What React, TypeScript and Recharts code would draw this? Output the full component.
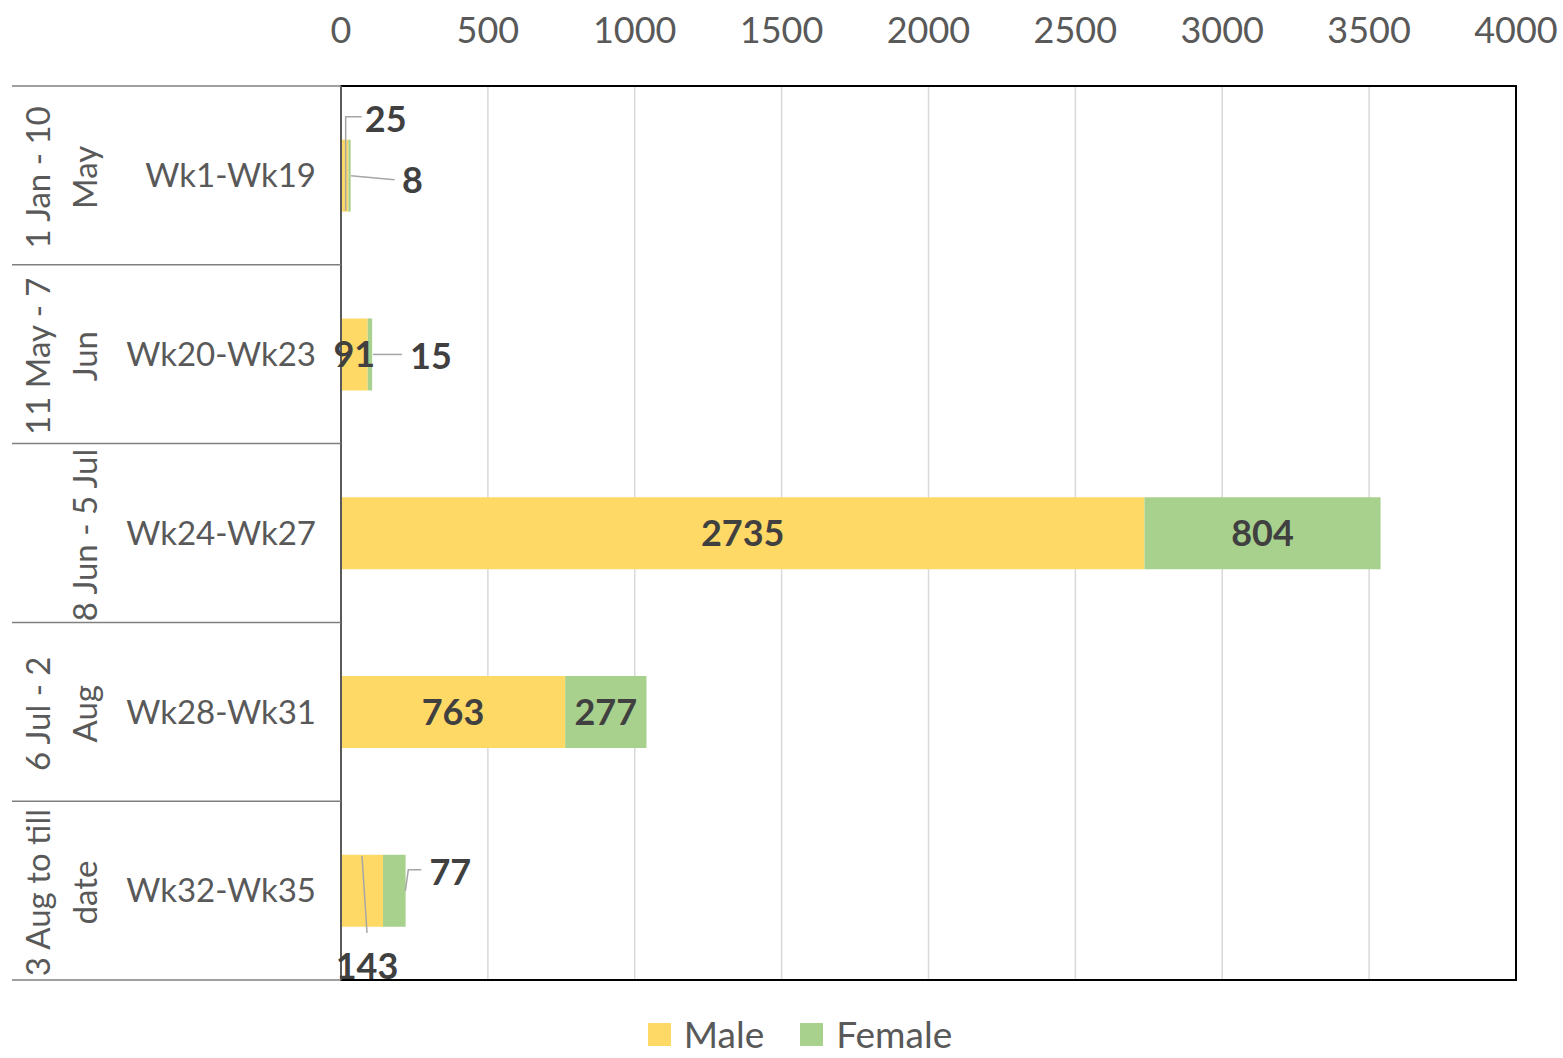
import React from "react";
import {
  BarChart,
  Bar,
  XAxis,
  YAxis,
  CartesianGrid,
  Legend,
  LabelList,
  ReferenceArea,
} from "recharts";

const weeks = ["Wk1-Wk19", "Wk20-Wk23", "Wk24-Wk27", "Wk28-Wk31", "Wk32-Wk35"];
const periods = [
  ["1 Jan - 10", "May"],
  ["11 May - 7", "Jun"],
  ["", "8 Jun - 5 Jul"],
  ["6 Jul - 2", "Aug"],
  ["3 Aug to till", "date"],
];
const male = [25, 91, 2735, 763, 143];
const female = [8, 15, 804, 277, 77];
const xTicks = [0, 500, 1000, 1500, 2000, 2500, 3000, 3500, 4000];

const data = weeks.map((wk, i) => ({ wk, male: male[i], female: female[i] }));

const FONT = "Lato, 'Open Sans', sans-serif";
const AXIS_GREY = "#595959";
const LABEL_DARK = "#404040";

// callout labels that sit outside small bars (offsets from bar centre)
type Callout = { dx: number; dy: number; leader: [number, number][] };
const maleCallouts: Record<number, Callout> = {
  0: { dx: 41, dy: -57, leader: [[17, -59], [1, -59], [1, 35]] },
  4: { dx: 5, dy: 75, leader: [[0, -35], [5, 42]] },
};
const femaleCallouts: Record<number, Callout> = {
  0: { dx: 63, dy: 4, leader: [[1.5, 0], [45, 4]] },
  1: { dx: 61, dy: 2, leader: [[3, 0], [32, 0]] },
  4: { dx: 56, dy: -19, leader: [[11, 0], [14, -21], [27, -21]] },
};

function makeLabel(callouts: Record<number, Callout>) {
  return (props: any) => {
    const { x, y, width, height, value, index } = props;
    const cx = Number(x) + Number(width) / 2;
    const cy = Number(y) + Number(height) / 2;
    const c = callouts[index];
    const text = (tx: number, ty: number) => (
      <text
        x={tx}
        y={ty}
        dy="0.36em"
        textAnchor="middle"
        fontFamily={FONT}
        fontSize={36}
        fontWeight="bold"
        fill={LABEL_DARK}
      >
        {value}
      </text>
    );
    if (!c) return <g>{text(cx, cy)}</g>;
    const pts = c.leader.map(([a, b]) => `${cx + a},${cy + b}`).join(" ");
    return (
      <g>
        <polyline points={pts} fill="none" stroke="#A6A6A6" strokeWidth={1.5} />
        {text(cx + c.dx, cy + c.dy)}
      </g>
    );
  };
}

function CategoryTick(props: any) {
  const { x, y, payload, index } = props;
  const half = payload?.offset ?? 89.4;
  const top = y - half;
  const bottom = y + half;
  const lines = periods[index] || [];
  return (
    <g>
      <line x1={x - 329} x2={x} y1={top} y2={top} stroke="#7F7F7F" strokeWidth={1.5} />
      {index === weeks.length - 1 && (
        <line x1={x - 329} x2={x} y1={bottom} y2={bottom} stroke="#7F7F7F" strokeWidth={1.5} />
      )}
      <text
        x={x - 25}
        y={y}
        dy="0.36em"
        textAnchor="end"
        fontFamily={FONT}
        fontSize={33}
        fill={AXIS_GREY}
      >
        {payload.value}
      </text>
      {lines.map((l: string, k: number) => (
        <text
          key={k}
          transform={`translate(${x - 303 + 47 * k},${y + 2}) rotate(-90)`}
          dy="0.36em"
          textAnchor="middle"
          fontFamily={FONT}
          fontSize={33}
          fill={AXIS_GREY}
        >
          {l}
        </text>
      ))}
    </g>
  );
}

function ValueTick(props: any) {
  const { x, y, payload } = props;
  return (
    <text
      x={x}
      y={y - 43}
      textAnchor="middle"
      fontFamily={FONT}
      fontSize={36}
      fill={AXIS_GREY}
    >
      {payload.value}
    </text>
  );
}

function LegendContent() {
  const items = [
    { name: "Male", color: "#FFD966" },
    { name: "Female", color: "#A9D18E" },
  ];
  return (
    <div
      style={{
        display: "flex",
        justifyContent: "center",
        alignItems: "center",
        gap: 36,
        fontFamily: FONT,
        fontSize: 37,
        lineHeight: "36px",
        color: AXIS_GREY,
      }}
    >
      {items.map((it) => (
        <div key={it.name} style={{ display: "flex", alignItems: "center", gap: 13 }}>
          <span style={{ width: 23, height: 23, background: it.color, display: "inline-block" }} />
          <span>{it.name}</span>
        </div>
      ))}
    </div>
  );
}

export default function App() {
  return (
    <div style={{ width: 1563, height: 1058, background: "#fff" }}>
      <style>{`body{margin:0}`}</style>
      <BarChart
        width={1563}
        height={1058}
        data={data}
        layout="vertical"
        barCategoryGap="30%"
        margin={{ top: 0, right: 47, left: 0, bottom: 78 }}
      >
        <CartesianGrid horizontal={false} stroke="#D9D9D9" strokeWidth={1.5} />
        <XAxis
          type="number"
          orientation="top"
          domain={[0, 4000]}
          ticks={xTicks}
          axisLine={false}
          tickLine={false}
          tickSize={0}
          tickMargin={0}
          height={86}
          tick={<ValueTick />}
          allowDataOverflow
        />
        <YAxis
          type="category"
          dataKey="wk"
          width={341}
          interval={0}
          tickLine={false}
          tickSize={0}
          tickMargin={0}
          axisLine={{ stroke: AXIS_GREY, strokeWidth: 2 }}
          tick={<CategoryTick />}
        />
        <ReferenceArea x1={0} x2={4000} fill="none" stroke="#000" strokeWidth={2} />
        <Bar dataKey="male" name="Male" stackId="a" fill="#FFD966" isAnimationActive={false}>
          <LabelList dataKey="male" content={makeLabel(maleCallouts)} />
        </Bar>
        <Bar dataKey="female" name="Female" stackId="a" fill="#A9D18E" isAnimationActive={false}>
          <LabelList dataKey="female" content={makeLabel(femaleCallouts)} />
        </Bar>
        <Legend
          verticalAlign="middle"
          align="center"
          wrapperStyle={{ top: 1016, left: 37, width: 1526, height: 36 }}
          content={<LegendContent />}
        />
      </BarChart>
    </div>
  );
}
